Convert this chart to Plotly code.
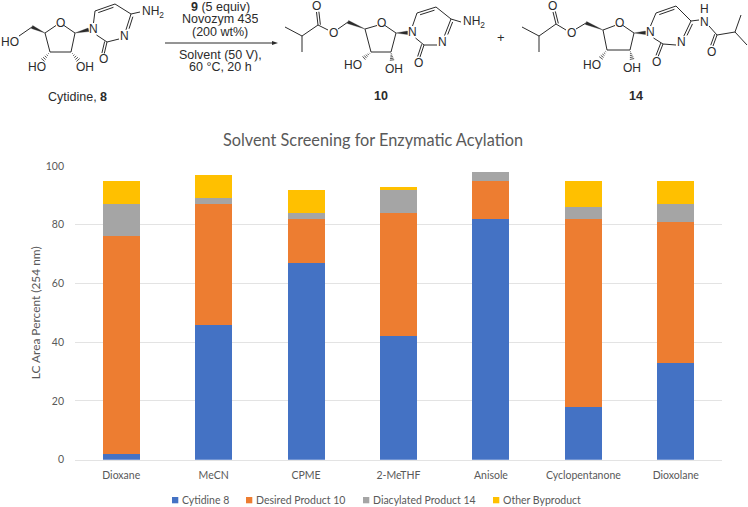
import plotly.graph_objects as go

W, H = 748, 507

# ---- chart data ----
solvents = ["Dioxane", "MeCN", "CPME", "2-MeTHF", "Anisole", "Cyclopentanone", "Dioxolane"]
cytidine = [2, 46, 67, 42, 82, 18, 33]
desired = [74, 41, 15, 42, 13, 64, 48]
diacylated = [11, 2, 2, 8, 3, 4, 6]
other = [8, 8, 8, 1, 0, 9, 8]
series_names = ["Cytidine 8", "Desired Product 10", "Diacylated Product 14", "Other Byproduct"]
series_colors = ["#4472C4", "#ED7D31", "#A5A5A5", "#FFC000"]
y_ticks = [0, 20, 40, 60, 80, 100]

INK = "#2b2b2b"
GREY = "#595959"


def px(x):
    return x / W


def py(y):
    return 1 - y / H


shapes = []
annotations = []


def bond(a, b, width=1.0):
    shapes.append(dict(type="line", xref="paper", yref="paper",
                       x0=px(a[0]), y0=py(a[1]), x1=px(b[0]), y1=py(b[1]),
                       line=dict(color=INK, width=width), layer="above"))


def dbl(a, b, off=2.6, shrink=0.12):
    bond(a, b)
    dx, dy = b[0] - a[0], b[1] - a[1]
    n = (dx * dx + dy * dy) ** 0.5
    ox, oy = -dy / n * off, dx / n * off
    bond((a[0] + dx * shrink + ox, a[1] + dy * shrink + oy),
         (b[0] - dx * shrink + ox, b[1] - dy * shrink + oy))


def wedge(a, b, w=1.7):
    dx, dy = b[0] - a[0], b[1] - a[1]
    n = (dx * dx + dy * dy) ** 0.5
    ox, oy = -dy / n * w, dx / n * w
    path = (f"M {px(a[0])} {py(a[1])} L {px(b[0] + ox)} {py(b[1] + oy)} "
            f"L {px(b[0] - ox)} {py(b[1] - oy)} Z")
    shapes.append(dict(type="path", xref="paper", yref="paper", path=path,
                       fillcolor=INK, line=dict(color=INK, width=0.3), layer="above"))


def hashed(a, b, steps=5, w=2.2):
    dx, dy = b[0] - a[0], b[1] - a[1]
    n = (dx * dx + dy * dy) ** 0.5
    ox, oy = -dy / n, dx / n
    for i in range(1, steps + 1):
        t = i / steps
        c = (a[0] + dx * t, a[1] + dy * t)
        bond((c[0] - ox * w * t, c[1] - oy * w * t), (c[0] + ox * w * t, c[1] + oy * w * t), 0.8)


def text(x, y, s, size=12, color=INK, family="Liberation Sans", anchor="center", height=None):
    annotations.append(dict(xref="paper", yref="paper", x=px(x), y=py(y), text=s, showarrow=False,
                            xanchor=anchor, yanchor="middle", borderpad=0, height=height,
                            font=dict(family=family, size=size, color=color)))


def sugar_base(c5h, c4, o, c1, c2, c3, ho3, oh2, h3, h2, n1, c6, c5, c4b, n3, c2b, ob):
    for a, b in [(c4, (o[0] - 4, o[1] + 2.5)), ((o[0] + 4, o[1] + 2.5), c1), (c1, c2), (c2, c3), (c3, c4)]:
        bond(a, b)
    wedge(c4, c5h, 1.6)
    wedge(c1, (n1[0] - 4.5, n1[1] + 0.8), 1.8)
    hashed(c3, h3)
    hashed(c2, h2)
    text(o[0], o[1], "O")
    text(ho3[0], ho3[1], "HO")
    text(oh2[0], oh2[1], "OH")
    text(n1[0], n1[1], "N")
    text(n3[0], n3[1], "N")
    text(ob[0], ob[1], "O")
    bond((n1[0] + 0.5, n1[1] - 6), c6)
    dbl(c6, c5, 2.6)
    bond(c5, c4b)
    dx, dy = n3[0] - c4b[0], n3[1] - c4b[1]
    dbl(c4b, (c4b[0] + dx * 0.72, c4b[1] + dy * 0.72), -2.6)
    bond((n3[0] - 5, n3[1] + 3), c2b)
    bond(c2b, (n1[0] + 3.5, n1[1] + 6))
    dx, dy = ob[0] - c2b[0], ob[1] - c2b[1]
    dbl(c2b, (c2b[0] + dx * 0.68, c2b[1] + dy * 0.68), 2.4, 0)


# Cytidine, 8
text(10, 42, "HO")
bond((19, 36), (32, 27))
sugar_base((32, 27), (45, 33), (60, 23), (75, 33), (71, 52), (50, 52),
           (37, 67), (85, 67), (43, 60), (78, 60),
           (93, 29), (95, 11), (115, 4), (131, 14), (124, 36), (107, 42), (103, 59))
bond((131, 14), (140, 12))
text(153, 12, "NH<sub>2</sub>")
text(77, 97, "Cytidine, <b>8</b>", size=12.5)

# Reaction arrow and conditions
bond((165, 43), (273, 43))
shapes.append(dict(type="path", xref="paper", yref="paper", fillcolor=INK, line=dict(width=0), layer="above",
                   path=f"M {px(278)} {py(43)} L {px(272)} {py(41)} L {px(272)} {py(45)} Z"))
text(220, 7.5, "<b>9</b> (5 equiv)", size=12.5, height=12.5)
text(220, 20, "Novozym 435", size=12.5, height=12.5)
text(220, 32.5, "(200 wt%)", size=12.5, height=12.5)
text(220, 55, "Solvent (50 V),", size=12.5, height=12.5)
text(220, 67.5, "60 °C, 20 h", size=12.5, height=12.5)

# Product 10
bond((285, 27), (302, 36))
bond((302, 36), (302, 52))
bond((302, 36), (318, 25))
dbl((318, 25), (316.5, 12), 2.4, 0)
text(316, 6, "O")
bond((318, 25), (328, 30))
text(333, 33, "O")
bond((338, 29), (348, 22))
sugar_base((348, 22), (365, 29), (381, 23), (396, 33), (391, 52), (371, 52),
           (353, 65), (394, 69), (364, 58), (392, 60),
           (412, 32), (417, 13), (436, 7), (451, 19), (442, 42), (424, 45), (418, 63))
bond((451, 19), (461, 22))
text(474, 22, "NH<sub>2</sub>")
text(381, 96, "<b>10</b>", size=12.5)

text(501, 38, "+", size=13)

# Product 14
bond((522, 27), (539, 36))
bond((539, 36), (539, 52))
bond((539, 36), (556, 24))
dbl((556, 24), (553, 12), 2.4, 0)
text(552, 6, "O")
bond((556, 24), (566, 30))
text(571, 33, "O")
bond((576, 29), (586, 23))
sugar_base((586, 23), (603, 30), (619, 23), (634, 33), (630, 50), (607, 50),
           (592, 65), (632, 68), (601, 58), (632, 59),
           (650, 32), (656, 13), (676, 6), (691, 21), (681, 42), (663, 44), (656, 62))
bond((691, 21), (699, 20))
text(704, 22, "N")
text(704, 9, "H", height=11)
bond((709, 26), (717, 35))
dbl((717, 35), (713, 46), 2.4, 0)
text(711, 52, "O")
bond((717, 35), (735, 32))
bond((735, 32), (741, 15))
bond((735, 32), (747, 45))
text(636, 96, "<b>14</b>", size=12.5)

# Legend row, placed as in the reference
legend_swatch_x = [172, 246, 363, 493]
for sx, name, col in zip(legend_swatch_x, series_names, series_colors):
    shapes.append(dict(type="rect", xref="paper", yref="paper", fillcolor=col, line=dict(width=0),
                       x0=px(sx), x1=px(sx + 6.3), y0=py(503.3), y1=py(497)))
    text(sx + 9, 500, name, size=10.5, color=GREY, family="Lato", anchor="left")

# ---- chart ----
fig = go.Figure()
for name, vals, col in zip(series_names, [cytidine, desired, diacylated, other], series_colors):
    fig.add_bar(x=solvents, y=vals, name=name, marker=dict(color=col, line=dict(width=0)))

X0, X1, Y0, Y1 = 75, 722, 459.7, 166

fig.update_layout(
    width=W, height=H, autosize=False,
    margin=dict(l=0, r=0, t=0, b=0),
    paper_bgcolor="white", plot_bgcolor="white",
    barmode="stack", bargap=0.6, showlegend=False,
    title=dict(text="Solvent Screening for Enzymatic Acylation", x=373 / W, xanchor="center",
               y=py(140), yanchor="middle", font=dict(family="Lato", size=16.3, color=GREY)),
    font=dict(family="Lato", color=GREY),
    xaxis=dict(domain=[px(X0), px(X1)], showgrid=False, showline=True, linecolor="#E3E3E3", linewidth=1,
               ticks="", tickfont=dict(size=10.5, color=GREY), ticklabelstandoff=6, automargin=False),
    yaxis=dict(domain=[py(Y0), py(Y1)], range=[0, 100], tickvals=y_ticks, gridcolor="#E3E3E3", gridwidth=1,
               zeroline=False, showline=False, ticks="", tickfont=dict(size=10.5, color=GREY),
               title=dict(text="LC Area Percent (254 nm)", font=dict(size=11.9, color=GREY), standoff=2),
               ticklabelstandoff=10, automargin=False),
    shapes=shapes, annotations=annotations,
)

fig.write_html("out.html", config=dict(displayModeBar=False),
               post_script="document.body.style.margin='0';document.body.style.overflow='hidden';")
